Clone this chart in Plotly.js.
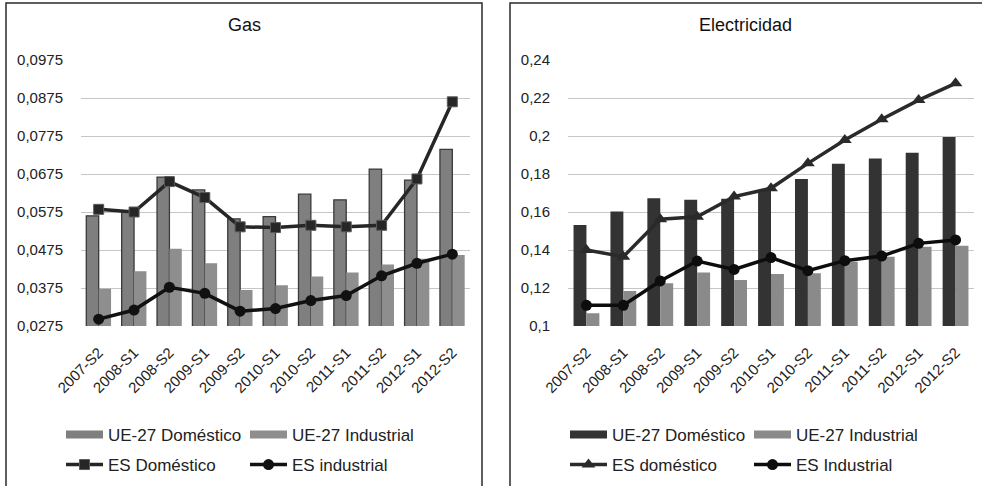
<!DOCTYPE html>
<html>
<head>
<meta charset="utf-8">
<script src="https://cdn.plot.ly/plotly-3.0.1.min.js"></script>
<style>html,body{margin:0;padding:0;background:#fff;}#chart{width:982px;height:486px;}</style>
</head>
<body>
<div id="chart"></div>
<script>
const categories = ['2007-S2','2008-S1','2008-S2','2009-S1','2009-S2','2010-S1','2010-S2','2011-S1','2011-S2','2012-S1','2012-S2'];

// Gas
const gasUEDomestico  = [0.0565,0.0578,0.0667,0.0633,0.0557,0.0563,0.0622,0.0607,0.0688,0.0659,0.0740];
const gasUEIndustrial = [0.0373,0.0419,0.0478,0.0440,0.0370,0.0382,0.0405,0.0416,0.0437,0.0452,0.0462];
const gasESDomestico  = [0.0582,0.0575,0.0655,0.0613,0.0536,0.0534,0.0540,0.0536,0.0540,0.0662,0.0865];
const gasESIndustrial = [0.0293,0.0317,0.0377,0.0361,0.0314,0.0321,0.0342,0.0355,0.0407,0.0440,0.0464];

// Electricidad
const elUEDomestico  = [0.1532,0.1602,0.1672,0.1665,0.1670,0.1715,0.1774,0.1854,0.1882,0.1912,0.1995];
const elUEIndustrial = [0.1067,0.1184,0.1225,0.1281,0.1242,0.1274,0.1277,0.1338,0.1365,0.1417,0.1423];
const elESDomestico  = [0.1400,0.1365,0.1562,0.1575,0.1681,0.1725,0.1856,0.1979,0.2088,0.2189,0.2277];
const elESIndustrial = [0.1109,0.1109,0.1237,0.1342,0.1298,0.1360,0.1291,0.1344,0.1368,0.1435,0.1453];

const gasTickVals = [0.0275,0.0375,0.0475,0.0575,0.0675,0.0775,0.0875,0.0975];
const gasTickText = ['0,0275','0,0375','0,0475','0,0575','0,0675','0,0775','0,0875','0,0975'];
const elTickVals = [0.1,0.12,0.14,0.16,0.18,0.2,0.22,0.24];
const elTickText = ['0,1','0,12','0,14','0,16','0,18','0,2','0,22','0,24'];

const W = 982, H = 486;
const px = v => v / W;
const py = v => 1 - v / H;
const FONT = '"Liberation Sans", Arial, sans-serif';

const gasDomColor = '#7f7f7f', gasIndColor = '#8e8e8e';
const elDomColor = '#333333', elIndColor = '#8a8a8a';

const traces = [
  // Gas bars
  {type:'bar', x:categories, y:gasUEDomestico, xaxis:'x', yaxis:'y', showlegend:false,
   marker:{color:gasDomColor, line:{color:'#3a3a3a', width:1.3}}},
  {type:'bar', x:categories, y:gasUEIndustrial, xaxis:'x', yaxis:'y', showlegend:false,
   marker:{color:gasIndColor, line:{width:0}}},
  {type:'scatter', mode:'lines+markers', x:categories, y:gasESDomestico, xaxis:'x', yaxis:'y',
   name:'ES Doméstico', legend:'legend2',
   line:{color:'#262626', width:3.5}, marker:{symbol:'square', size:10, color:'#262626', line:{color:'#5a5a5a', width:1}}},
  {type:'scatter', mode:'lines+markers', x:categories, y:gasESIndustrial, xaxis:'x', yaxis:'y',
   name:'ES industrial', legend:'legend2',
   line:{color:'#111111', width:3.5}, marker:{symbol:'circle', size:11, color:'#111111'}},
  // Gas legend swatches for bars
  {type:'scatter', mode:'lines', x:[null], y:[null], xaxis:'x', yaxis:'y', name:'UE-27 Doméstico', legend:'legend',
   line:{color:gasDomColor, width:8}},
  {type:'scatter', mode:'lines', x:[null], y:[null], xaxis:'x', yaxis:'y', name:'UE-27 Industrial', legend:'legend',
   line:{color:gasIndColor, width:8}},

  // Electricity bars
  {type:'bar', x:categories, y:elUEDomestico, xaxis:'x2', yaxis:'y2', showlegend:false,
   marker:{color:elDomColor, line:{width:0}}},
  {type:'bar', x:categories, y:elUEIndustrial, xaxis:'x2', yaxis:'y2', showlegend:false,
   marker:{color:elIndColor, line:{width:0}}},
  {type:'scatter', mode:'lines+markers', x:categories, y:elESDomestico, xaxis:'x2', yaxis:'y2',
   name:'ES doméstico', legend:'legend4',
   line:{color:'#2a2a2a', width:3.5}, marker:{symbol:'triangle-up', size:12, color:'#2a2a2a'}},
  {type:'scatter', mode:'lines+markers', x:categories, y:elESIndustrial, xaxis:'x2', yaxis:'y2',
   name:'ES Industrial', legend:'legend4',
   line:{color:'#0d0d0d', width:3.5}, marker:{symbol:'circle', size:11, color:'#0d0d0d'}},
  {type:'scatter', mode:'lines', x:[null], y:[null], xaxis:'x2', yaxis:'y2', name:'UE-27 Doméstico', legend:'legend3',
   line:{color:elDomColor, width:8}},
  {type:'scatter', mode:'lines', x:[null], y:[null], xaxis:'x2', yaxis:'y2', name:'UE-27 Industrial', legend:'legend3',
   line:{color:elIndColor, width:8}}
];

const axisFont = {family:FONT, size:15, color:'#222'};
const legendBase = {orientation:'h', yanchor:'middle', xanchor:'left', bgcolor:'rgba(0,0,0,0)',
  font:{family:FONT, size:17, color:'#222'}, entrywidth:132, entrywidthmode:'pixels', itemwidth:37, tracegroupgap:0};

const xBase = {type:'category', range:[-0.5,10.5], tickangle:-45, tickfont:axisFont, showgrid:false,
  zeroline:false, showline:false, ticks:'', ticklabelstandoff:14, fixedrange:true, automargin:false};
const yBase = {tickfont:axisFont, showgrid:true, gridcolor:'#c6c6c6', gridwidth:1, zeroline:false,
  showline:false, ticks:'outside', ticklen:14, tickcolor:'rgba(0,0,0,0)', fixedrange:true, automargin:false};

const layout = {
  width:W, height:H, margin:{l:0, r:0, t:0, b:0}, paper_bgcolor:'#fff', plot_bgcolor:'rgba(0,0,0,0)',
  font:{family:FONT, color:'#222'},
  barmode:'group', bargap:0.3, bargroupgap:0,
  xaxis: Object.assign({}, xBase, {domain:[px(81), px(470)], anchor:'y'}),
  yaxis: Object.assign({}, yBase, {domain:[py(326), py(60)], range:[0.0275,0.0975], tickvals:gasTickVals, ticktext:gasTickText, anchor:'x'}),
  xaxis2: Object.assign({}, xBase, {domain:[px(568), px(974)], anchor:'y2'}),
  yaxis2: Object.assign({}, yBase, {domain:[py(326), py(60)], range:[0.1,0.24], tickvals:elTickVals, ticktext:elTickText, anchor:'x2'}),
  legend:  Object.assign({}, legendBase, {x:px(61), y:py(435)}),
  legend2: Object.assign({}, legendBase, {x:px(61), y:py(465)}),
  legend3: Object.assign({}, legendBase, {x:px(565), y:py(435)}),
  legend4: Object.assign({}, legendBase, {x:px(565), y:py(465)}),
  annotations:[
    {text:'Gas', xref:'paper', yref:'paper', x:px(244), y:py(25), xanchor:'center', yanchor:'middle', showarrow:false,
     font:{family:FONT, size:18, color:'#111'}},
    {text:'Electricidad', xref:'paper', yref:'paper', x:px(745), y:py(25), xanchor:'center', yanchor:'middle', showarrow:false,
     font:{family:FONT, size:18, color:'#111'}}
  ],
  shapes:[
    {type:'rect', xref:'paper', yref:'paper', x0:px(6), x1:px(482), y0:py(492), y1:py(3), line:{color:'#2a2a2a', width:1.5}},
    {type:'rect', xref:'paper', yref:'paper', x0:px(510), x1:px(986), y0:py(492), y1:py(3), line:{color:'#2a2a2a', width:1.5}}
  ]
};

Plotly.newPlot('chart', traces, layout, {displayModeBar:false, staticPlot:true});
</script>
</body>
</html>
